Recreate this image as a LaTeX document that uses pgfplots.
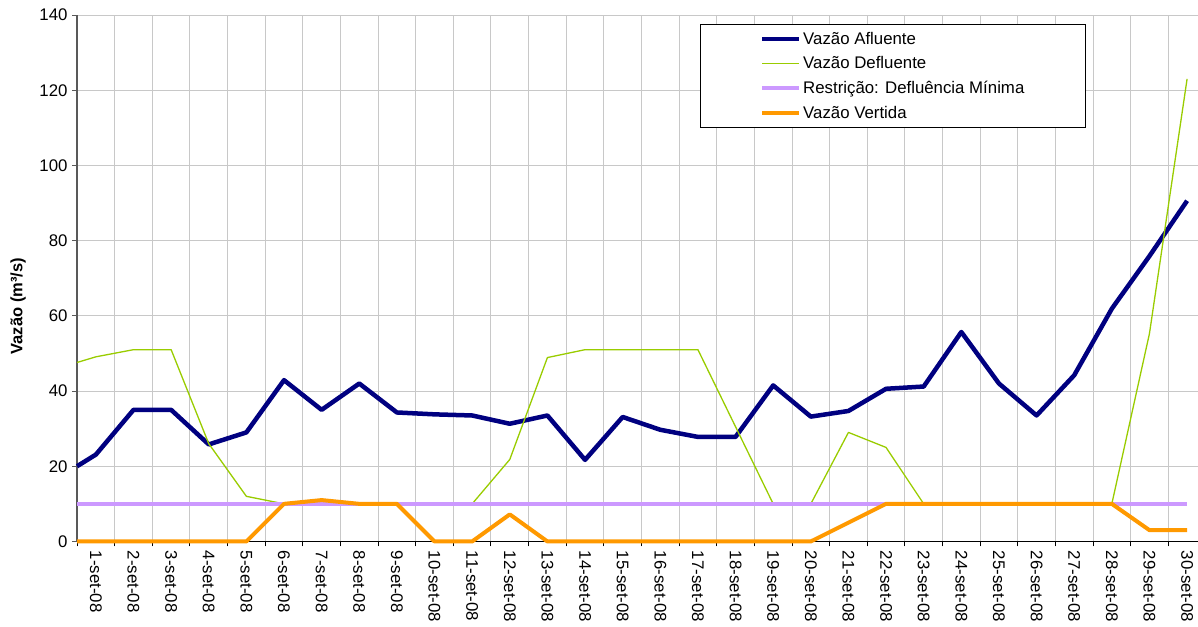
\documentclass[border=0pt]{standalone}
\usepackage{fontspec}
\setmainfont{Liberation Sans}
\usepackage{pgfplots}
\pgfplotsset{compat=1.18}
\definecolor{afl}{RGB}{0,0,128}
\definecolor{dfl}{RGB}{153,204,0}
\definecolor{rst}{RGB}{204,153,255}
\definecolor{vrt}{RGB}{255,153,0}
\definecolor{gridc}{RGB}{200,200,200}
\begin{document}
\begin{tikzpicture}
\begin{axis}[
  name=ax,
  scale only axis,
  width=1120pt, height=526pt,
  xmin=0.5, xmax=30.29,
  ymin=0, ymax=140,
  ytick={0,20,...,140},
  xtick={1,...,30},
  xticklabels={1-set-08,2-set-08,3-set-08,4-set-08,5-set-08,6-set-08,7-set-08,8-set-08,9-set-08,10-set-08,11-set-08,12-set-08,13-set-08,14-set-08,15-set-08,16-set-08,17-set-08,18-set-08,19-set-08,20-set-08,21-set-08,22-set-08,23-set-08,24-set-08,25-set-08,26-set-08,27-set-08,28-set-08,29-set-08,30-set-08},
  minor xtick={0.5,1.5,...,29.5},
  major x tick style={draw=none},
  minor x tick style={black, line width=1pt},
  xminorgrids=true,
  ymajorgrids=true,
  grid style={gridc, line width=1pt},
  minor grid style={gridc, line width=1pt},
  axis x line*=bottom,
  axis y line*=left,
  x axis line style={black, line width=1pt, -},
  y axis line style={black!65, line width=1.5pt, -},
  y tick style={black!65, line width=1pt},
  tick align=outside,
  major tick length=5pt,
  minor tick length=5pt,
  clip=false,
  /pgf/number format/assume math mode=true,
  tick label style={font=\fontsize{16.8}{19}\selectfont},
  xticklabel style={rotate=-90, anchor=west, xshift=1pt, yshift=0pt},
  yticklabel style={xshift=-1pt},
  ylabel={\textbf{Vazão (m³/s)}},
  ylabel style={at={(axis description cs:-0.0527,0.447)}, anchor=center, font=\fontsize{16.5}{19}\selectfont},
  legend style={at={(axis description cs:0.5554,0.983)}, anchor=north west,
    draw=black, line width=1pt, fill=white,
    font=\fontsize{16.8}{19}\selectfont,
    inner xsep=60pt, inner ysep=6pt, row sep=8pt,
    nodes={inner sep=1.5pt}},
  legend cell align=left,
  legend image code/.code={\draw[#1] (0pt,0pt) -- (37pt,0pt);},
]
\addplot[afl, line width=4.5pt, line join=round] coordinates {
(0.5,20)(1,23.1)(2,35)(3,35)(4,25.8)(5,29)(6,42.9)(7,35)(8,42)(9,34.3)(10,33.8)(11,33.5)(12,31.3)(13,33.5)(14,21.7)(15,33.1)(16,29.7)(17,27.8)(18,27.8)(19,41.5)(20,33.2)(21,34.7)(22,40.6)(23,41.2)(24,55.7)(25,42)(26,33.5)(27,44.2)(28,61.9)(29,75.9)(30,90.6)};
\addlegendentry{Vazão Afluente}
\addplot[dfl, line width=1.3pt, line join=round] coordinates {
(0.5,47.6)(1,49.1)(2,51)(3,51)(4,26)(5,12)(6,10)(7,10)(8,10)(9,10)(10,10)(11,10)(12,21.8)(13,48.9)(14,51)(15,51)(16,51)(17,51)(18,30.5)(19,10)(20,10)(21,29)(22,25)(23,10)(24,10)(25,10)(26,10)(27,10)(28,10)(29,55.3)(30,123)};
\addlegendentry{Vazão Defluente}
\addplot[rst, line width=4pt] coordinates {
(0.5,10)(1,10)(2,10)(3,10)(4,10)(5,10)(6,10)(7,10)(8,10)(9,10)(10,10)(11,10)(12,10)(13,10)(14,10)(15,10)(16,10)(17,10)(18,10)(19,10)(20,10)(21,10)(22,10)(23,10)(24,10)(25,10)(26,10)(27,10)(28,10)(29,10)(30,10)};
\addlegendentry{Restrição: Defluência Mínima}
\addplot[vrt, line width=4pt, line join=round] coordinates {
(0.5,0)(1,0)(2,0)(3,0)(4,0)(5,0)(6,10)(7,11)(8,10)(9,10)(10,0)(11,0)(12,7.2)(13,0)(14,0)(15,0)(16,0)(17,0)(18,0)(19,0)(20,0)(21,5)(22,10)(23,10)(24,10)(25,10)(26,10)(27,10)(28,10)(29,3)(30,3)};
\addlegendentry{Vazão Vertida}
\end{axis}
\pgfresetboundingbox
\path[use as bounding box] ([shift={(-77pt,-85pt)}]ax.south west) rectangle ([shift={(0pt,15pt)}]ax.north east);
\end{tikzpicture}
\end{document}
